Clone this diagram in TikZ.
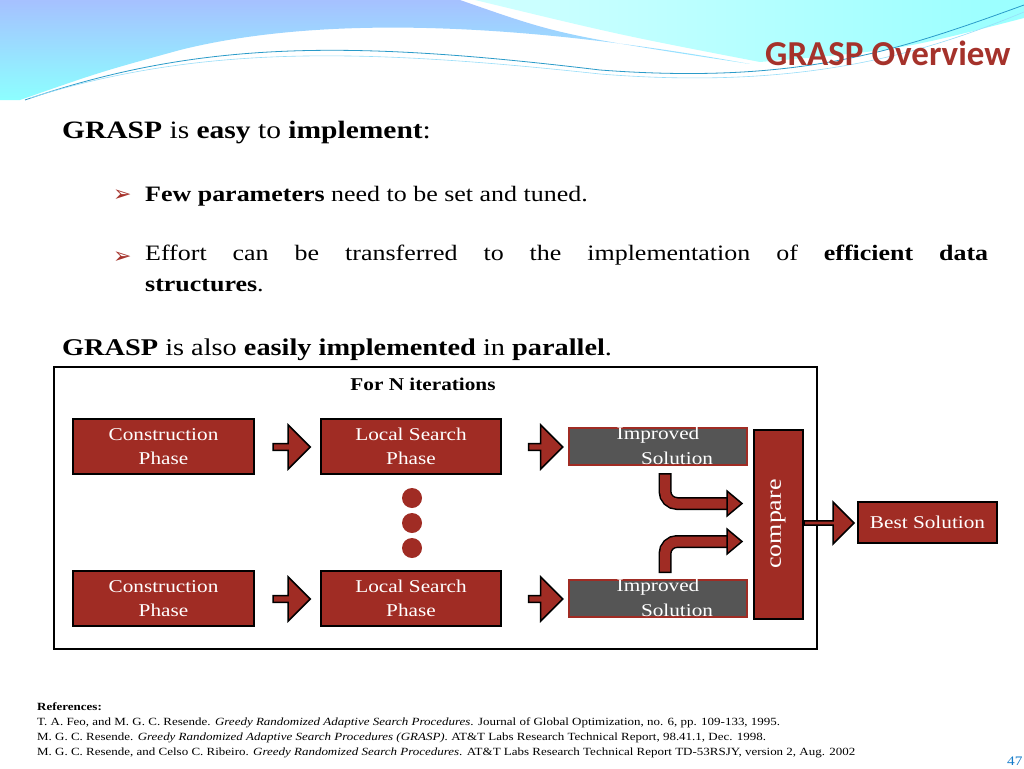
\documentclass[tikz,border=0pt]{standalone}
\usepackage{fontspec}
\setmainfont[FakeStretch=1.18]{Liberation Serif}
\newfontfamily\titlefont{Carlito}
\newfontfamily\symfont{DejaVu Sans}
\usetikzlibrary{shapes.arrows}
\definecolor{dred}{HTML}{A02C24}
\definecolor{tred}{HTML}{A5322B}
\definecolor{sgray}{HTML}{555555}
\begin{document}
\begin{tikzpicture}[x=1pt,y=-1pt,
  redbox/.style={draw=black,line width=1.5pt,fill=dred,text=white,font=\fontsize{18}{24}\selectfont,align=center,inner sep=0pt},
  graybox/.style={draw=dred,line width=1.5pt,fill=sgray,text=white,inner sep=0pt},
  sarrow/.style={single arrow,draw=black,line width=1.5pt,fill=dred,minimum width=44pt,single arrow head extend=4pt,inner sep=0pt,minimum height=37pt},
  dot/.style={circle,fill=dred,minimum size=20pt,inner sep=0pt}]
\useasboundingbox (0,0) rectangle (1024,768);
\fill[white] (0,0) rectangle (1024,768);
% header waves
\shade[top color=cyan!30!blue!35!white,bottom color=cyan!45!white] (0,0)--(460,0) .. controls (560,35) .. (750,64) .. controls (520,22) and (320,15) .. (180,50) .. controls (100,72) .. (20,100) -- (0,100) -- cycle;
\shade[left color=cyan!18,right color=cyan!40] (475,0)--(1024,0)--(1024,18) .. controls (900,50) .. (760,62) .. controls (620,35) .. (475,0) -- cycle;
\draw[cyan!60!teal,line width=0.8pt] (25,100) .. controls (200,40) and (350,40) .. (600,70) .. controls (800,85) and (900,50) .. (1024,5);
\draw[cyan!40,line width=0.6pt] (30,98) .. controls (200,45) and (360,48) .. (600,74) .. controls (800,90) and (920,55) .. (1024,12);
\node[anchor=east,font=\titlefont\bfseries\fontsize{35}{36}\selectfont,text=tred] (title) at (1014,53) {GRASP Overview};
% text
\node[anchor=west,font=\fontsize{25}{30}\selectfont,inner sep=0pt] (l1) at (62,133) {\textbf{GRASP} is \textbf{easy} to \textbf{implement}:};
\node[anchor=west,font=\symfont\fontsize{22}{24}\selectfont,text=tred,inner sep=0pt] (b1) at (113,196) {➢};
\node[anchor=west,font=\fontsize{22}{26}\selectfont,inner sep=0pt] (t1) at (145,196) {\textbf{Few parameters} need to be set and tuned.};
\node[anchor=west,font=\symfont\fontsize{22}{24}\selectfont,text=tred,inner sep=0pt] (b2) at (113,258) {➢};
\node[anchor=north west,font=\fontsize{22}{31}\selectfont,inner sep=0pt,align=left] (t2) at (145,245) {\makebox[843pt][l]{Effort\hfill can\hfill be\hfill transferred\hfill to\hfill the\hfill implementation\hfill of\hfill \textbf{efficient}\hfill \textbf{data}}\\\textbf{structures}.};
\node[anchor=west,font=\fontsize{24}{28}\selectfont,inner sep=0pt] (l2) at (62,350) {\textbf{GRASP} is also \textbf{easily implemented} in \textbf{parallel}.};
% frame
\draw[line width=2pt] (54,367) rectangle (817,649);
\node[font=\bfseries\fontsize{18}{20}\selectfont] (iter) at (423,384) {For N iterations};
\node[redbox,minimum width=181pt,minimum height=55pt] (c1) at (163.5,446.5) {Construction\\Phase};
\node[redbox,minimum width=181pt,minimum height=55pt] (c2) at (163.5,598.5) {Construction\\Phase};
\node[redbox,minimum width=180pt,minimum height=55pt] (s1) at (411,446.5) {Local Search\\Phase};
\node[redbox,minimum width=180pt,minimum height=55pt] (s2) at (411,598.5) {Local Search\\Phase};
\node[sarrow] (a1) at (290,447) {};
\node[sarrow] (a2) at (290,599) {};
\node[sarrow,minimum height=34pt] (a3) at (544,447) {};
\node[sarrow,minimum height=34pt] (a4) at (544,599) {};
\node[graybox,minimum width=178pt,minimum height=37pt] (i1) at (658,446.5) {};
\node[graybox,minimum width=178pt,minimum height=37pt] (i2) at (658,598.5) {};
\foreach \n/\y in {i1/446.5,i2/598.5}{
  \node[text=white,font=\fontsize{18}{20}\selectfont,inner sep=0pt] (\n a) at (658,\y-11) {Improved};
  \node[text=white,font=\fontsize{18}{20}\selectfont,inner sep=0pt] (\n b) at (677,\y+12) {Solution};
}
\node[dot] (d1) at (412,498) {};
\node[dot] (d2) at (412,523) {};
\node[dot] (d3) at (412,548) {};
\node[redbox,minimum width=49pt,minimum height=189pt] (cmp) at (778.5,524.5) {};
\node[rotate=90,text=white,font=\fontsize{22}{24}\selectfont] (cmpt) at (778,524) {compare};
\node[sarrow,minimum width=42pt,minimum height=50pt,single arrow head extend=7pt] (a5) at (828,523) {};
\node[redbox,minimum width=139pt,minimum height=41pt] (best) at (927.5,522.5) {Best Solution};
% bent arrows
\draw[line width=13pt,black,rounded corners=12pt] (665,473) |- (730,503.5);
\draw[line width=10pt,dred,rounded corners=12pt] (665,474.5) |- (731,503.5);
\draw[line width=13pt,black,rounded corners=12pt] (665,573) |- (730,541.5);
\draw[line width=10pt,dred,rounded corners=12pt] (665,571.5) |- (731,541.5);
\draw[fill=dred,line width=1.5pt] (727,491)--(742,503.5)--(727,516)--cycle;
\draw[fill=dred,line width=1.5pt] (727,529)--(742,541.5)--(727,554)--cycle;
% references
\node[anchor=north west,font=\fontsize{11}{15}\selectfont,align=left,inner sep=0pt] (refs) at (37,703) {\textbf{References:}\\
T. A. Feo, and M. G. C. Resende. \textit{Greedy Randomized Adaptive Search Procedures}. Journal of Global Optimization, no. 6, pp. 109-133, 1995.\\
M. G. C. Resende. \textit{Greedy Randomized Adaptive Search Procedures (GRASP).} AT\&T Labs Research Technical Report, 98.41.1, Dec. 1998.\\
M. G. C. Resende, and Celso C. Ribeiro. \textit{Greedy Randomized Search Procedures}. AT\&T Labs Research Technical Report TD-53RSJY, version 2, Aug. 2002};
\node[anchor=east,text=cyan!60!blue,font=\fontsize{13}{14}\selectfont] (pg) at (1026,761) {47};
\end{tikzpicture}
\end{document}
